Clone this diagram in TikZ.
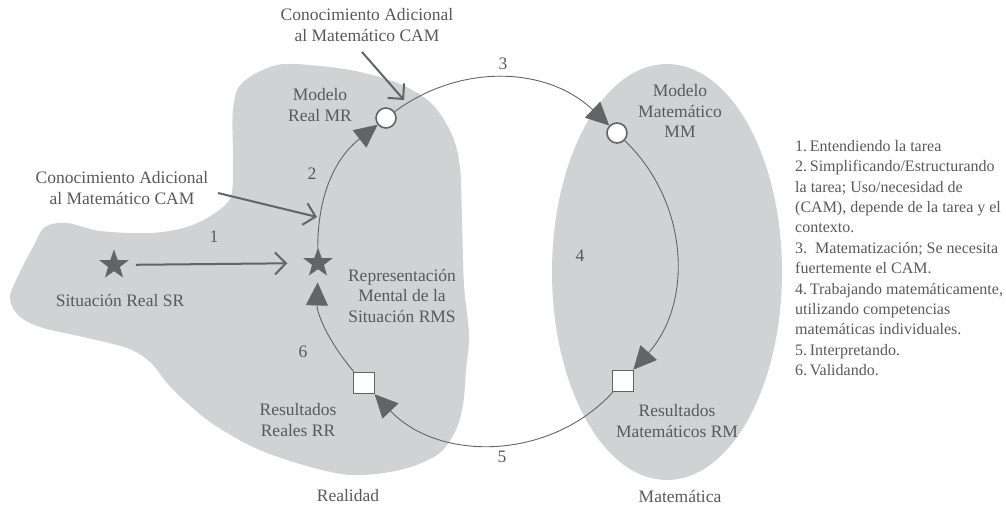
\documentclass[tikz,border=0pt]{standalone}
\usepackage{fontspec}
\setmainfont{Liberation Serif}
\usetikzlibrary{shapes.geometric,arrows.meta}
\definecolor{txt}{RGB}{88,89,91}
\definecolor{ln}{RGB}{99,100,102}
\definecolor{bg}{RGB}{209,210,212}
\begin{document}
\begin{tikzpicture}[x=1pt,y=-1pt,
  lbl/.style={text=txt,font=\fontsize{17.5}{20.5}\selectfont,align=center,inner sep=0},
  legend/.style={text=txt,font=\fontsize{16}{20.4}\selectfont,align=left,inner sep=0},
  starnode/.style={star,star points=5,star point ratio=2.5,fill=ln,minimum size=31pt,inner sep=0},
  circnode/.style={circle,draw=ln,line width=1.6pt,fill=white,minimum size=20pt,inner sep=0},
  sqnode/.style={rectangle,draw=ln,line width=1.6pt,fill=white,minimum size=21pt,inner sep=0},
  cyc/.style={draw=ln,line width=0.9pt,-{Triangle[length=23pt,width=22pt]}},
  ptr/.style={draw=ln,line width=2pt,-{Straight Barb[length=11pt,width=22pt]}}]
\useasboundingbox (0,0) rectangle (1006,510);
% regions
\fill[bg] plot[smooth cycle,tension=0.55] coordinates {
 (277,65) (320,66) (360,72) (400,84) (432,104) (452,135) (460,168) (462,220)
 (464,285) (469,335) (466,370) (463,405) (455,432) (437,455) (400,470) (350,475)
 (300,464) (253,447) (213,424) (187,403) (167,383) (150,362) (127,348) (83,337)
 (40,327) (18,315) (10,297) (20,272) (33,247) (45,227) (67,223) (100,231)
 (150,233) (187,227) (215,213) (231,196) (233,160) (233,110) (242,83)};
\fill[bg] (667,272) ellipse [x radius=115, y radius=208];
% nodes
\node[starnode] (sr) at (114,265) {};
\node[starnode] (rms) at (318,263) {};
\node[circnode] (mr) at (386,118) {};
\node[circnode] (mm) at (617,133) {};
\node[sqnode] (rm) at (623,381) {};
\node[sqnode] (rr) at (364,383) {};
% cycle arcs
\draw[cyc] (rms) to[bend left=26] (mr);
\draw[cyc] (mr) to[bend left=40] (mm);
\draw[cyc] (mm) to[bend left=44] (rm);
\draw[cyc] (rm) to[bend left=47] (rr);
\draw[cyc,shorten >=13pt] (rr) to[bend left=21] (rms);
% labels
\node[lbl] (camtop) at (367,25) {Conocimiento Adicional\\al Matemático CAM};
\node[lbl] (camleft) at (122,188) {Conocimiento Adicional\\al Matemático CAM};
\node[lbl] (mrl) at (320,105) {Modelo\\Real MR};
\node[lbl] (n2) at (312,174) {2};
\node[lbl] (n1) at (214,237) {1};
\node[lbl] (srl) at (120,301) {Situación Real SR};
\node[lbl] (rmsl) at (402,296) {Representación\\Mental de la\\Situación RMS};
\node[lbl] (n6) at (303,352) {6};
\node[lbl] (rrl) at (298,420) {Resultados\\Reales RR};
\node[lbl] (real) at (348,496) {Realidad};
\node[lbl] (n3) at (503,64) {3};
\node[lbl] (mml) at (680,111) {Modelo\\Matemático\\MM};
\node[lbl] (n4) at (580,256) {4};
\node[lbl] (rml) at (677,421) {Resultados\\Matemáticos RM};
\node[lbl] (n5) at (502,457) {5};
\node[lbl] (mat) at (680,496) {Matemática};
\node[legend,anchor=north west] (leg) at (795,140) {1.\,Entendiendo la tarea\\
2.\,Simplificando/Estructurando\\
la tarea; Uso/necesidad de\\
(CAM), depende de la tarea y el\\
contexto.\\
3.\enspace Matematización; Se necesita\\
fuertemente el CAM.\\
4.\,Trabajando matemáticamente,\\
utilizando competencias\\
matemáticas individuales.\\
5.\,Interpretando.\\
6.\,Validando.};
% pointers
\coordinate (c1s) at (362,52);
\coordinate (c1e) at (404,100);
\coordinate (c2s) at (218,193);
\coordinate (c2e) at (317,217);
\draw[ptr] (c1s) -- (c1e);
\draw[ptr] (c2s) -- (c2e);
\draw[ptr,shorten <=13pt,shorten >=22pt] (sr) -- (rms);
\end{tikzpicture}
\end{document}
